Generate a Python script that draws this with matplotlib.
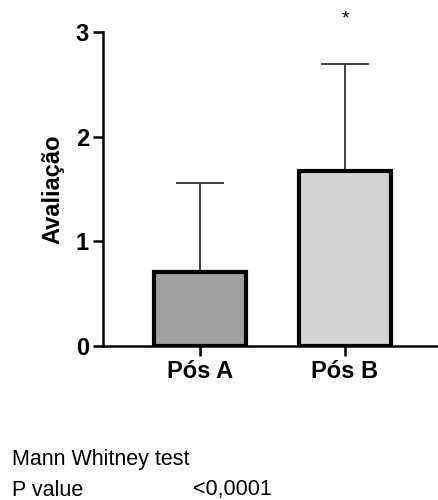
import matplotlib.pyplot as plt

plt.rcParams['font.family'] = ['Liberation Sans', 'DejaVu Sans']

# Dados
grupos = ["Pós A", "Pós B"]
medias = [0.71, 1.67]
erros = [0.85, 1.02]
cores = ["#a0a0a2", "#d4d4d4"]

fig = plt.figure(figsize=(4.38, 5), dpi=100)
ax = fig.add_axes([103 / 438, 0.308, 1 - 103 / 438, 0.936 - 0.308])

x = range(len(grupos))
ax.errorbar(x, medias, yerr=[[0] * len(erros), erros], fmt='none',
            ecolor='#404040', elinewidth=1.4, capsize=17, capthick=1.4, zorder=1)
ax.bar(x, medias, width=0.64, color=cores, edgecolor='black', linewidth=3, zorder=2)

ax.text(1, 3.12, "*", ha='center', va='center', fontsize=14)

ax.set_xlim(-0.669, 1.641)
ax.set_ylim(0, 3)
ax.set_yticks([0, 1, 2, 3])
ax.set_xticks(list(x))
ax.set_xticklabels(grupos, fontsize=17, fontweight='bold')
for lbl in ax.get_yticklabels():
    lbl.set_fontsize(17)
    lbl.set_fontweight('bold')
ax.tick_params(axis='both', length=7, width=1.8, pad=3)
ax.set_ylabel("Avaliação", fontsize=17, fontweight='bold', labelpad=8)

ax.spines['top'].set_visible(False)
ax.spines['right'].set_visible(False)
ax.spines['left'].set_linewidth(1.8)
ax.spines['bottom'].set_linewidth(1.8)

# Teste estatístico
fig.text(12 / 438, 1 - 460 / 500, "Mann Whitney test", fontsize=15.5, va='center')
fig.text(12 / 438, 1 - 490 / 500, "P value", fontsize=15.5, va='center')
fig.text(193 / 438, 1 - 490 / 500, "<0,0001", fontsize=15.5, va='center')

fig.savefig("out.png", dpi=100)
